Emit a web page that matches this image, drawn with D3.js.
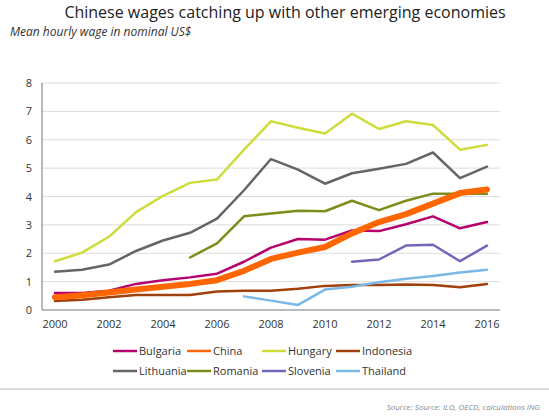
<!DOCTYPE html>
<html><head><meta charset="utf-8">
<script src="https://cdn.jsdelivr.net/npm/d3@7"></script>
<style>body{margin:0;background:#fff;font-family:"Open Sans",sans-serif}</style>
</head><body><svg width="549" height="418"></svg>
<script>
const years = d3.range(2000, 2017);
const bulgaria = [0.6,0.6,0.68,0.92,1.05,1.15,1.28,1.7,2.2,2.5,2.48,2.8,2.78,3.02,3.3,2.88,3.1];
const china = [0.45,0.52,0.62,0.72,0.82,0.92,1.05,1.38,1.8,2.02,2.22,2.7,3.1,3.38,3.75,4.12,4.25];
const hungary = [1.72,2.02,2.58,3.45,4.02,4.48,4.6,5.65,6.65,6.42,6.22,6.92,6.38,6.65,6.52,5.65,5.82];
const indonesia = [0.32,0.36,0.45,0.53,0.53,0.53,0.65,0.68,0.68,0.75,0.85,0.88,0.88,0.9,0.88,0.8,0.92];
const lithuania = [1.35,1.42,1.6,2.08,2.45,2.72,3.22,4.22,5.32,4.95,4.45,4.82,4.98,5.15,5.55,4.65,5.05];
const romania = [null,null,null,null,null,1.85,2.35,3.3,3.4,3.5,3.48,3.85,3.52,3.85,4.1,4.1,4.1];
const slovenia = [null,null,null,null,null,null,null,null,null,null,null,1.7,1.78,2.27,2.3,1.72,2.27];
const thailand = [null,null,null,null,null,null,null,0.48,0.33,0.18,0.72,0.82,0.98,1.1,1.2,1.32,1.42];
const yTicks = [0,1,2,3,4,5,6,7,8];
const xTicks = [2000,2002,2004,2006,2008,2010,2012,2014,2016];
const series = [
 {name:"Bulgaria", v:bulgaria, c:"#b5006e", w:2.5},
 {name:"Hungary", v:hungary, c:"#cfdc3c", w:2.5},
 {name:"Indonesia", v:indonesia, c:"#a0400a", w:2.5},
 {name:"Lithuania", v:lithuania, c:"#656565", w:2.5},
 {name:"Romania", v:romania, c:"#7f8c1c", w:2.5},
 {name:"Slovenia", v:slovenia, c:"#7467b8", w:2.5},
 {name:"Thailand", v:thailand, c:"#7ab8e6", w:2.5},
 {name:"China", v:china, c:"#ff6600", w:6}
];
const legendOrder = ["Bulgaria","China","Hungary","Indonesia","Lithuania","Romania","Slovenia","Thailand"];
const svg = d3.select("svg");
const x = d3.scaleLinear().domain([2000,2016]).range([55,487]);
const y = d3.scaleLinear().domain([0,8]).range([310,83]);
svg.append("text").attr("x",285).attr("y",18).attr("text-anchor","middle").attr("font-size",16).attr("fill","#222").text("Chinese wages catching up with other emerging economies");
svg.append("text").attr("x",10).attr("y",36).attr("font-size",12).attr("font-style","italic").attr("fill","#333").text("Mean hourly wage in nominal US$");
svg.append("g").selectAll("line").data(yTicks.filter(d=>d>0)).join("line")
 .attr("x1",42).attr("x2",500).attr("y1",d=>y(d)).attr("y2",d=>y(d)).attr("stroke","#dcdcdc");
svg.append("line").attr("x1",42).attr("x2",42).attr("y1",y(8)).attr("y2",y(0)).attr("stroke","#777");
svg.append("line").attr("x1",42).attr("x2",500).attr("y1",y(0)).attr("y2",y(0)).attr("stroke","#777");
svg.append("g").selectAll("text").data(yTicks).join("text").attr("x",32).attr("y",d=>y(d)+4).attr("text-anchor","end").attr("font-size",11).attr("fill","#333").text(d=>d);
svg.append("g").selectAll("text").data(xTicks).join("text").attr("x",d=>x(d)).attr("y",328).attr("text-anchor","middle").attr("font-size",11).attr("fill","#333").text(d=>d);
const line = d3.line().defined(d=>d[1]!=null).x(d=>x(d[0])).y(d=>y(d[1]));
series.forEach(s=>{
 svg.append("path").attr("d",line(years.map((yr,i)=>[yr,s.v[i]]))).attr("fill","none").attr("stroke",s.c).attr("stroke-width",s.w).attr("stroke-linecap","round").attr("stroke-linejoin","round");
});
const colX=[113,187,262,336];
legendOrder.forEach((n,i)=>{
 const s=series.find(q=>q.name===n);
 const gx=colX[i%4], gy=i<4?351:371;
 svg.append("line").attr("x1",gx).attr("x2",gx+24).attr("y1",gy).attr("y2",gy).attr("stroke",s.c).attr("stroke-width",2.5);
 svg.append("text").attr("x",gx+26).attr("y",gy+4).attr("font-size",11).attr("fill","#333").text(n);
});
svg.append("line").attr("x1",0).attr("x2",549).attr("y1",389).attr("y2",389).attr("stroke","#ddd").attr("stroke-width",2);
svg.append("text").attr("x",540).attr("y",410).attr("text-anchor","end").attr("font-size",8).attr("font-style","italic").attr("fill","#888").text("Source: Source: ILO, OECD, calculations ING");
</script></body></html>
